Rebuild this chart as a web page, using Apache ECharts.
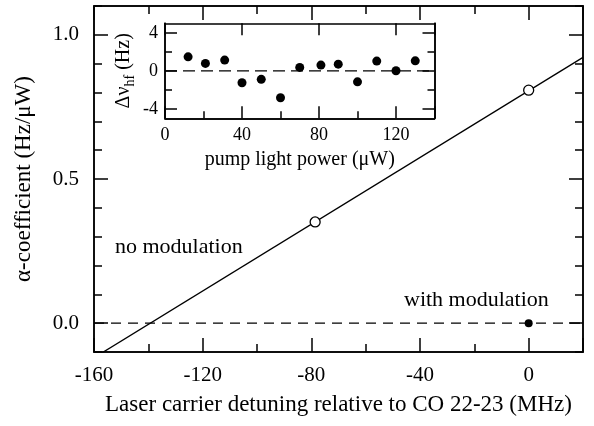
<!DOCTYPE html>
<html>
<head>
<meta charset="utf-8">
<script src="https://cdn.jsdelivr.net/npm/echarts@6/dist/echarts.min.js"></script>
<style>
  html, body { margin: 0; padding: 0; background: #fff; }
  #chart { width: 594px; height: 426px; }
</style>
</head>
<body>
<div id="chart"></div>
<script>
// main plot: alpha-coefficient vs laser detuning
const fitLine = [[-160, -0.12], [20, 0.922]]
const noModX = [-78.6, 0]
const noModY = [0.351, 0.808]
const withModX = [0]
const withModY = [0]
const zeroLineX = [-160, 20]

// inset: frequency shift vs pump power
const powerX = [12, 21, 31, 40, 50, 60, 70, 81, 90, 100, 110, 120, 130]
const deltaNu = [1.47, 0.78, 1.13, -1.26, -0.9, -2.84, 0.36, 0.6, 0.7, -1.16, 1.02, 0.0, 1.05]
const insetZeroX = [0, 140]

const mainXLabels = [-160, -120, -80, -40, 0]
const mainYLabels = [0, 0.5, 1.0]
const insetXLabels = [0, 40, 80, 120]
const insetYLabels = [-4, 0, 4]
const insetYTicks = [-4, -2, 0, 2, 4]

const FONT = 'Liberation Serif'
const line = { show: true, onZero: false, lineStyle: { color: '#000', width: 1.5 } }
const noSplit = { show: false }
const noLabel = { show: false }

function tick(len, extra) {
  return Object.assign({ show: true, inside: true, length: len, lineStyle: { color: '#000', width: 1.5 } }, extra || {})
}

const chart = echarts.init(document.getElementById('chart'))

chart.setOption({
  animation: false,
  textStyle: { fontFamily: FONT, color: '#000' },
  grid: [
    { left: 94, right: 11, top: 6, bottom: 74 },
    // 插图
    { left: 165, right: 159.5, top: 23.3, bottom: 307.7, show: true, backgroundColor: '#fff', borderWidth: 0 },
  ],
  xAxis: [
    {
      gridIndex: 0, type: 'value', min: -160, max: 20, interval: 40, position: 'bottom',
      axisLine: line, axisTick: tick(14), splitLine: noSplit,
      axisLabel: { show: true, customValues: mainXLabels, margin: 13, fontSize: 21, fontFamily: FONT, color: '#000' },
      name: 'Laser carrier detuning relative to CO 22-23 (MHz)', nameLocation: 'middle', nameGap: 41,
      nameTextStyle: { fontSize: 23, fontFamily: FONT, color: '#000' },
    },
    { gridIndex: 0, type: 'value', min: -160, max: 20, interval: 20, position: 'bottom',
      axisLine: line, axisTick: tick(8), axisLabel: noLabel, splitLine: noSplit },
    { gridIndex: 0, type: 'value', min: -160, max: 20, interval: 40, position: 'top',
      axisLine: line, axisTick: tick(14), axisLabel: noLabel, splitLine: noSplit },
    { gridIndex: 0, type: 'value', min: -160, max: 20, interval: 20, position: 'top',
      axisLine: line, axisTick: tick(8), axisLabel: noLabel, splitLine: noSplit },
    {
      gridIndex: 1, type: 'value', min: 0, max: 140, interval: 40, position: 'bottom',
      axisLine: line, axisTick: tick(12), splitLine: noSplit,
      axisLabel: { show: true, customValues: insetXLabels, margin: 8, fontSize: 18, fontFamily: FONT, color: '#000' },
      name: 'pump light power (μW)', nameLocation: 'middle', nameGap: 31,
      nameTextStyle: { fontSize: 20, fontFamily: FONT, color: '#000' },
    },
    { gridIndex: 1, type: 'value', min: 0, max: 140, interval: 20, position: 'bottom',
      axisLine: line, axisTick: tick(7), axisLabel: noLabel, splitLine: noSplit },
    { gridIndex: 1, type: 'value', min: 0, max: 140, interval: 40, position: 'top',
      axisLine: line, axisTick: tick(12), axisLabel: noLabel, splitLine: noSplit },
  ],
  yAxis: [
    {
      gridIndex: 0, type: 'value', min: -0.1, max: 1.1, position: 'left',
      axisLine: line, axisTick: tick(14, { customValues: mainYLabels }), splitLine: noSplit,
      axisLabel: { show: true, customValues: mainYLabels, margin: 15, fontSize: 21, fontFamily: FONT, color: '#000',
        formatter: v => v.toFixed(1) },
      name: 'α-coefficient (Hz/μW)', nameLocation: 'middle', nameGap: 59,
      nameTextStyle: { fontSize: 23, fontFamily: FONT, color: '#000' },
    },
    { gridIndex: 0, type: 'value', min: -0.1, max: 1.1, interval: 0.1, position: 'left',
      axisLine: line, axisTick: tick(8), axisLabel: noLabel, splitLine: noSplit },
    { gridIndex: 0, type: 'value', min: -0.1, max: 1.1, position: 'right',
      axisLine: line, axisTick: tick(14, { customValues: mainYLabels }), axisLabel: noLabel, splitLine: noSplit },
    { gridIndex: 0, type: 'value', min: -0.1, max: 1.1, interval: 0.1, position: 'right',
      axisLine: line, axisTick: tick(8), axisLabel: noLabel, splitLine: noSplit },
    {
      gridIndex: 1, type: 'value', min: -5, max: 5, position: 'left',
      axisLine: line, axisTick: tick(12, { customValues: insetYLabels }), splitLine: noSplit,
      axisLabel: { show: true, customValues: insetYLabels, margin: 7, fontSize: 18, fontFamily: FONT, color: '#000' },
      name: '{a|Δν}{s|hf}{a| (Hz)}', nameLocation: 'middle', nameGap: 28,
      nameTextStyle: {
        fontFamily: FONT, color: '#000',
        rich: {
          a: { fontSize: 20, fontFamily: FONT, lineHeight: 26, verticalAlign: 'middle' },
          s: { fontSize: 14, fontFamily: FONT, lineHeight: 14, verticalAlign: 'bottom' },
        },
      },
    },
    { gridIndex: 1, type: 'value', min: -5, max: 5, position: 'left',
      axisLine: line, axisTick: tick(7, { customValues: insetYTicks }), axisLabel: noLabel, splitLine: noSplit },
    { gridIndex: 1, type: 'value', min: -5, max: 5, position: 'right',
      axisLine: line, axisTick: tick(12, { customValues: insetYLabels }), axisLabel: noLabel, splitLine: noSplit },
    { gridIndex: 1, type: 'value', min: -5, max: 5, position: 'right',
      axisLine: line, axisTick: tick(7, { customValues: insetYTicks }), axisLabel: noLabel, splitLine: noSplit },
  ],
  graphic: [
    { type: 'text', left: 115, top: 236, style: { text: 'no modulation', font: '22px "Liberation Serif"', fill: '#000' } },
    { type: 'text', left: 404, top: 289, style: { text: 'with modulation', font: '22px "Liberation Serif"', fill: '#000' } },
  ],
  series: [
    {
      type: 'line', xAxisIndex: 0, yAxisIndex: 0, data: zeroLineX.map(x => [x, 0]),
      symbol: 'none', lineStyle: { color: '#000', width: 1.3, type: [10, 7] }, z: 2,
    },
    {
      type: 'line', xAxisIndex: 0, yAxisIndex: 0, data: fitLine, clip: true,
      symbol: 'none', lineStyle: { color: '#000', width: 1.3 }, z: 3,
    },
    {
      type: 'scatter', xAxisIndex: 0, yAxisIndex: 0, data: noModX.map((x, i) => [x, noModY[i]]),
      symbol: 'circle', symbolSize: 10, itemStyle: { color: '#fff', borderColor: '#000', borderWidth: 1.3, opacity: 1 }, z: 4,
    },
    {
      type: 'scatter', xAxisIndex: 0, yAxisIndex: 0, data: withModX.map((x, i) => [x, withModY[i]]),
      symbol: 'circle', symbolSize: 8, itemStyle: { color: '#000', opacity: 1 }, z: 4,
    },
    {
      type: 'line', xAxisIndex: 4, yAxisIndex: 4, data: insetZeroX.map(x => [x, 0]),
      symbol: 'none', lineStyle: { color: '#000', width: 1.3, type: [12, 6] }, z: 5,
    },
    {
      type: 'scatter', xAxisIndex: 4, yAxisIndex: 4, data: powerX.map((x, i) => [x, deltaNu[i]]),
      symbol: 'circle', symbolSize: 9, itemStyle: { color: '#000', opacity: 1 }, z: 6,
    },
  ],
})
</script>
</body>
</html>
